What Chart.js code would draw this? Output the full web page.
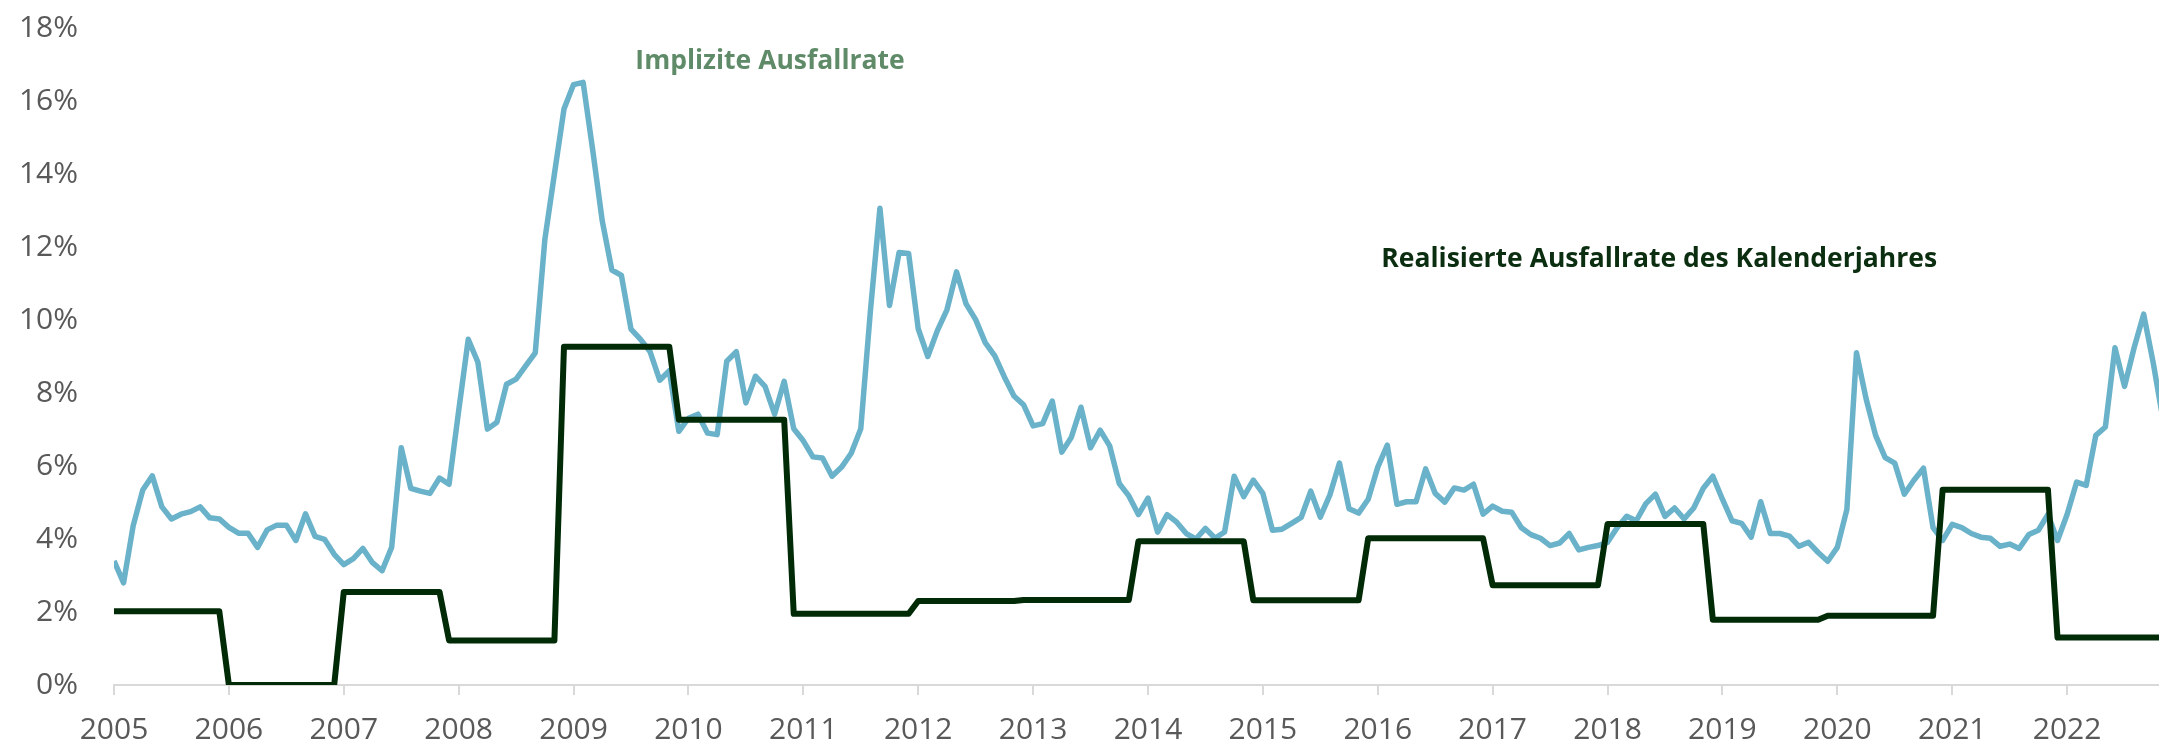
<!DOCTYPE html>
<html>
<head>
<meta charset="utf-8">
<script src="https://cdn.jsdelivr.net/npm/chart.js@4/dist/chart.umd.min.js"></script>
<style>
  html, body { margin: 0; padding: 0; background: #ffffff; overflow: hidden; }
  #wrap { width: 2159px; height: 746px; position: relative; }
</style>
</head>
<body>
<div id="wrap"><canvas id="ausfallChart"></canvas></div>
<script>
// Jahre (Achsenbeschriftung), erster Monatswert = Januar 2005
const jahre = [2005, 2006, 2007, 2008, 2009, 2010, 2011, 2012, 2013,
               2014, 2015, 2016, 2017, 2018, 2019, 2020, 2021, 2022];

// Implizite Ausfallrate, Monatswerte in %
const impliziteAusfallrate = [
  3.40, 2.80, 4.36, 5.34, 5.73, 4.88, 4.55, 4.68, 4.75, 4.88, 4.58, 4.55,   // 2005
  4.32, 4.16, 4.16, 3.77, 4.25, 4.38, 4.38, 3.96, 4.69, 4.07, 3.99, 3.58,   // 2006
  3.30, 3.46, 3.74, 3.35, 3.13, 3.77, 6.50, 5.39, 5.31, 5.25, 5.67, 5.50,   // 2007
  7.51, 9.47, 8.85, 7.01, 7.20, 8.24, 8.38, 8.74, 9.10, 12.20, 14.00, 15.78, // 2008
  16.45, 16.51, 14.66, 12.71, 11.37, 11.22, 9.75, 9.47, 9.13, 8.35, 8.61, 6.95, // 2009
  7.31, 7.42, 6.90, 6.86, 8.87, 9.13, 7.73, 8.46, 8.18, 7.42, 8.32, 7.02,   // 2010
  6.69, 6.25, 6.22, 5.72, 5.97, 6.35, 7.02, 10.23, 13.06, 10.40, 11.85, 11.82, // 2011
  9.76, 9.00, 9.71, 10.28, 11.32, 10.44, 10.01, 9.38, 9.02, 8.44, 7.92, 7.68, // 2012
  7.10, 7.16, 7.78, 6.38, 6.79, 7.61, 6.50, 6.98, 6.55, 5.52, 5.18, 4.67,   // 2013
  5.12, 4.19, 4.67, 4.46, 4.15, 4.00, 4.29, 4.02, 4.19, 5.72, 5.16, 5.61,   // 2014
  5.25, 4.24, 4.27, 4.43, 4.59, 5.31, 4.60, 5.21, 6.08, 4.83, 4.71, 5.09,   // 2015
  5.97, 6.57, 4.95, 5.02, 5.02, 5.92, 5.25, 5.01, 5.40, 5.34, 5.50, 4.68,   // 2016
  4.90, 4.76, 4.73, 4.31, 4.12, 4.02, 3.82, 3.89, 4.15, 3.70, 3.77, 3.82,   // 2017
  3.91, 4.31, 4.62, 4.50, 4.97, 5.23, 4.62, 4.85, 4.55, 4.85, 5.39, 5.72,   // 2018
  5.09, 4.50, 4.43, 4.05, 5.02, 4.15, 4.15, 4.08, 3.80, 3.91, 3.63, 3.39,   // 2019
  3.77, 4.81, 9.10, 7.85, 6.84, 6.23, 6.08, 5.23, 5.61, 5.94, 4.31, 3.96,   // 2020
  4.40, 4.31, 4.15, 4.05, 4.02, 3.80, 3.86, 3.74, 4.12, 4.24, 4.67, 3.96,   // 2021
  4.67, 5.56, 5.47, 6.84, 7.07, 9.24, 8.18, 9.24, 10.16, 8.82, 7.30         // 2022
];

// Realisierte Ausfallrate des Kalenderjahres in %
const realisierteAusfallrate = [2.02, 0.00, 2.55, 1.22, 9.27, 7.27, 1.95, 2.30, 2.33,
                                3.94, 2.32, 4.02, 2.73, 4.41, 1.79, 1.90, 5.35, 1.30];
// Monate vor Januar, ab denen der neue Jahreswert gezeigt wird
const stufenVorlauf = [0, 0, 0, 1, 1, 1, 1, 0, 1, 1, 1, 1, 0, 0, 1, 1, 1, 1];

const yAchseMax = 18;
const yAchseSchritt = 2;

// Monatspunkte auf der Zeitachse
const implizitPunkte = impliziteAusfallrate.map((v, i) => ({ x: jahre[0] + i / 12, y: v }));

// Stufenlinie: Start- und Endpunkt je Jahreswert
const realisiertPunkte = [];
realisierteAusfallrate.forEach((v, k) => {
    const start = jahre[k] - stufenVorlauf[k] / 12;
    const ende = k < jahre.length - 1
        ? jahre[k + 1] - stufenVorlauf[k + 1] / 12 - 1 / 12
        : jahre[k] + 11 / 12;
    realisiertPunkte.push({ x: start, y: v });
    realisiertPunkte.push({ x: ende, y: v });
});

// Beschriftungen direkt im Diagramm
const textPlugin = {
    id: 'seriesText',
    afterDatasetsDraw(chart) {
        const { ctx, scales } = chart;
        const items = [
            { text: 'Implizite Ausfallrate', x: 2010.71, y: 17.07, color: '#5f8b68' },
            { text: 'Realisierte Ausfallrate des Kalenderjahres', x: 2018.45, y: 11.67, color: '#0b2d10' }
        ];
        ctx.save();
        ctx.font = "bold 26.5px 'Open Sans'";
        ctx.textAlign = 'center';
        ctx.textBaseline = 'middle';
        items.forEach(it => {
            ctx.fillStyle = it.color;
            ctx.fillText(it.text, scales.x.getPixelForValue(it.x), scales.y.getPixelForValue(it.y));
        });
        ctx.restore();
    }
};

Chart.defaults.font.family = "'Open Sans', sans-serif";

const ctx = document.getElementById('ausfallChart').getContext('2d');
new Chart(ctx, {
    type: 'line',
    data: {
        datasets: [
            {
                label: 'Realisierte Ausfallrate des Kalenderjahres',
                data: realisiertPunkte,
                borderColor: '#012a07',
                borderWidth: 6,
                pointRadius: 0,
                tension: 0,
                borderJoinStyle: 'round',
                fill: false
            },
            {
                label: 'Implizite Ausfallrate',
                data: implizitPunkte,
                borderColor: '#6ab2c9',
                borderWidth: 5.5,
                pointRadius: 0,
                tension: 0,
                borderJoinStyle: 'round',
                fill: false
            }
        ]
    },
    options: {
        responsive: true,
        maintainAspectRatio: false,
        animation: false,
        devicePixelRatio: 1,
        layout: { padding: { top: 28, left: 0, right: 0, bottom: 0 } },
        plugins: {
            legend: { display: false },
            tooltip: { enabled: false }
        },
        scales: {
            x: {
                type: 'linear',
                min: jahre[0],
                max: 2022.8,
                afterFit: scale => {
                    scale.height = 61;
                    scale.paddingLeft = 0;
                    scale.paddingRight = 0;
                },
                grid: {
                    drawOnChartArea: false,
                    drawTicks: true,
                    tickLength: 10,
                    color: '#d9d9d9',
                    lineWidth: 2
                },
                border: { display: true, color: '#d9d9d9', width: 2 },
                ticks: {
                    stepSize: 1,
                    includeBounds: false,
                    autoSkip: false,
                    maxRotation: 0,
                    padding: 17,
                    color: '#595959',
                    font: { size: 30 },
                    callback: v => String(v)
                }
            },
            y: {
                min: 0,
                max: yAchseMax,
                afterFit: scale => {
                    scale.width = 114;
                    scale.paddingTop = 0;
                    scale.paddingBottom = 0;
                },
                grid: { display: false, drawTicks: false, tickLength: 0 },
                border: { display: false },
                ticks: {
                    stepSize: yAchseSchritt,
                    padding: 36,
                    color: '#595959',
                    font: { size: 30 },
                    callback: v => v + '%'
                }
            }
        }
    },
    plugins: [textPlugin]
});
</script>
</body>
</html>
